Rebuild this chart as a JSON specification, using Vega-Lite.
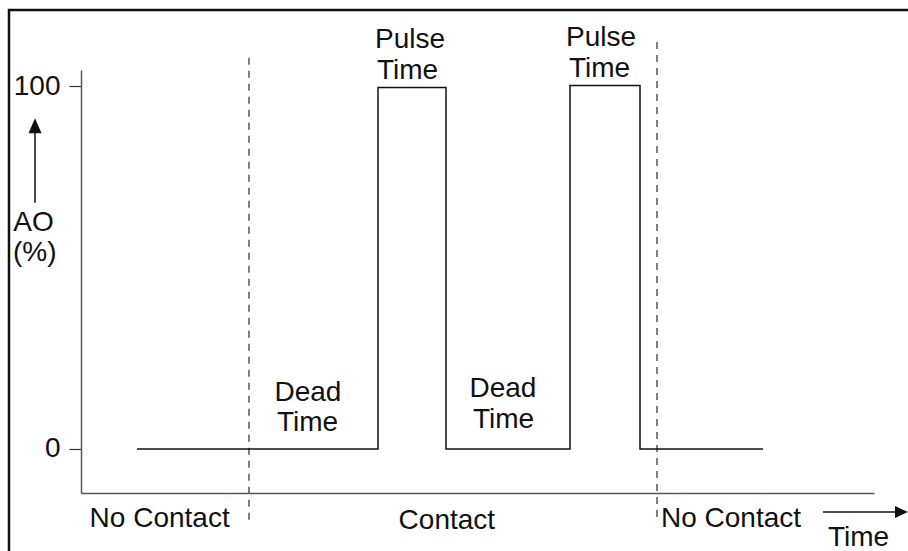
{
  "$schema": "https://vega.github.io/schema/vega-lite/v6.json",
  "width": 793,
  "height": 423,
  "autosize": {"type": "none"},
  "padding": {"left": 81, "top": 70, "right": 34, "bottom": 58},
  "background": "white",
  "config": {"view": {"stroke": null}, "font": "Liberation Sans"},
  "datasets": {
    "border": [{"t": -7.2, "t2": 120, "ao": 121.1, "ao2": -60}],
    "steps": [
      {"i": 1, "t": 5.6, "ao": 0},
      {"i": 2, "t": 29.7, "ao": 0},
      {"i": 3, "t": 29.7, "ao": 99.7},
      {"i": 4, "t": 36.5, "ao": 99.7},
      {"i": 5, "t": 36.5, "ao": 0},
      {"i": 6, "t": 48.9, "ao": 0},
      {"i": 7, "t": 48.9, "ao": 100.3},
      {"i": 8, "t": 55.9, "ao": 100.3},
      {"i": 9, "t": 55.9, "ao": 0},
      {"i": 10, "t": 68.2, "ao": 0}
    ],
    "dashes": [
      {"t": 16.8, "ao": 107.9, "ao2": -19.6},
      {"t": 57.6, "ao": 112.3, "ao2": -19.6}
    ],
    "arrows": [
      {"t": -4.6, "t2": -4.6, "ao": 67.9, "ao2": 88.6},
      {"t": 74.2, "t2": 81.7, "ao": -17.4, "ao2": -17.4}
    ],
    "headUp": [{"t": -4.6, "ao": 89.2}],
    "headRight": [{"t": 82.05, "ao": -17.4}],
    "labels": [
      {"t": 29.4, "ao": 110.5, "label": "Pulse"},
      {"t": 29.6, "ao": 102.1, "label": "Time"},
      {"t": 48.5, "ao": 111.2, "label": "Pulse"},
      {"t": 48.8, "ao": 102.7, "label": "Time"},
      {"t": 19.35, "ao": 13.3, "label": "Dead"},
      {"t": 19.6, "ao": 5.0, "label": "Time"},
      {"t": 38.85, "ao": 14.4, "label": "Dead"},
      {"t": 39.2, "ao": 5.7, "label": "Time"},
      {"t": -6.77, "ao": 60.2, "label": "AO"},
      {"t": -6.8, "ao": 51.9, "label": "(%)"},
      {"t": 0.86, "ao": -21.4, "label": "No Contact"},
      {"t": 31.76, "ao": -22.2, "label": "Contact"},
      {"t": 58.0, "ao": -21.4, "label": "No Contact"},
      {"t": 74.7, "ao": -26.8, "label": "Time"}
    ]
  },
  "encoding": {
    "x": {
      "field": "t",
      "type": "quantitative",
      "scale": {"domain": [0, 79.3], "nice": false, "zero": false},
      "axis": {"orient": "bottom", "ticks": false, "labels": false, "grid": false, "title": null, "domainColor": "#555", "domainWidth": 1.5}
    },
    "y": {
      "field": "ao",
      "type": "quantitative",
      "scale": {"domain": [-12.14, 104.55], "nice": false, "zero": false},
      "axis": {"values": [0, 100], "grid": false, "title": null, "tickSize": 12, "tickColor": "#333", "tickWidth": 1.2, "labelFontSize": 28, "labelColor": "#111", "labelPadding": 9, "labelFlush": false, "labelOverlap": false, "labelFont": "Liberation Sans", "domainColor": "#555", "domainWidth": 1.5}
    }
  },
  "layer": [
    {
      "data": {"name": "border"},
      "mark": {"type": "rect", "fill": null, "stroke": "#111", "strokeWidth": 2.5},
      "encoding": {"x2": {"field": "t2"}, "y2": {"field": "ao2"}}
    },
    {
      "data": {"name": "dashes"},
      "mark": {"type": "rule", "color": "#555", "strokeWidth": 1.5, "strokeDash": [7, 6]},
      "encoding": {"y2": {"field": "ao2"}}
    },
    {
      "data": {"name": "steps"},
      "mark": {"type": "line", "color": "#111", "strokeWidth": 1.5},
      "encoding": {"order": {"field": "i", "type": "quantitative"}}
    },
    {
      "data": {"name": "arrows"},
      "mark": {"type": "rule", "color": "#111", "strokeWidth": 1.5},
      "encoding": {"x2": {"field": "t2"}, "y2": {"field": "ao2"}}
    },
    {
      "data": {"name": "headUp"},
      "mark": {"type": "point", "filled": true, "color": "#111", "opacity": 1, "shape": "M0,-1L0.87,1L-0.87,1Z", "size": 225}
    },
    {
      "data": {"name": "headRight"},
      "mark": {"type": "point", "filled": true, "color": "#111", "opacity": 1, "shape": "M1,0L-1,-0.92L-1,0.92Z", "size": 169}
    },
    {
      "data": {"name": "labels"},
      "mark": {"type": "text", "align": "left", "baseline": "alphabetic", "fontSize": 28, "color": "#111", "font": "Liberation Sans"},
      "encoding": {"text": {"field": "label", "type": "nominal"}}
    }
  ]
}
